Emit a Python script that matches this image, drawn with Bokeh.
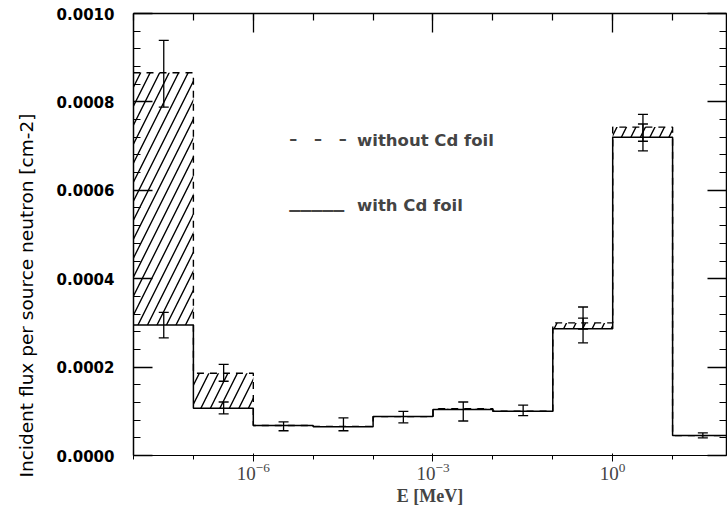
import math
from bokeh.plotting import figure
from bokeh.models import (LogAxis, LinearAxis, FixedTicker, SingleIntervalTicker,
                          ColumnDataSource, Whisker, TeeHead, Label, Range1d, Title,
                          PrintfTickFormatter, CustomJSTickFormatter)
from bokeh.embed import file_html
from bokeh.resources import INLINE

# ---- data ----
edges = [1e-8, 1e-7, 1e-6, 1e-5, 1e-4, 1e-3, 1e-2, 1e-1, 1e0, 1e1, 1e2]
with_cd = [0.000295, 0.000107, 0.000068, 0.000065, 0.000088, 0.000104,
           0.000100, 0.000287, 0.000720, 0.000045]
without_cd = [0.000866, 0.000186, 0.000068, 0.000066, 0.000088, 0.000106,
              0.000100, 0.000300, 0.000743, 0.000045]

err_e = [3.2e-8, 3.2e-8, 3.2e-7, 3.2e-7, 3.2e-6, 3.2e-5, 3.2e-4, 3.2e-3,
         3.2e-2, 0.32, 0.32, 3.2, 3.2, 32.0]
err_lo = [0.000788, 0.000266, 0.000168, 0.000094, 0.000056, 0.000056, 0.000074,
          0.000078, 0.000090, 0.000286, 0.000255, 0.000711, 0.000689, 0.000040]
err_hi = [0.000939, 0.000324, 0.000206, 0.000121, 0.000076, 0.000085, 0.000100,
          0.000121, 0.000114, 0.000336, 0.000311, 0.000772, 0.000750, 0.000051]

x_major = [1e-6, 1e-3, 1.0]
x_minor = [1e-8, 1e-7, 1e-6, 1e-5, 1e-4, 1e-3, 1e-2, 1e-1, 1e0, 1e1]

NB = "\u00a0"
legend_samples = ["\u2013" + NB * 3 + "\u2013" + NB * 3 + "\u2013", "_____"]
legend_labels = ["without Cd foil", "with Cd foil"]
legend_y = [0.000712, 0.000566]

# ---- figure ----
p = figure(width=727, height=508, x_axis_type="log",
           x_range=Range1d(1e-8, 10 ** 1.9), y_range=Range1d(0, 0.001),
           output_backend="svg", toolbar_location=None,
           min_border_left=132, min_border_right=1, min_border_top=13,
           min_border_bottom=50)
p.grid.visible = False
p.outline_line_color = None
p.background_fill_color = "white"

# hatched difference
p.quad(left=edges[:-1], right=edges[1:], bottom=with_cd, top=without_cd,
       fill_alpha=0, line_alpha=0, hatch_pattern="/", hatch_color="black",
       hatch_weight=1.4, hatch_scale=19)

# step lines
p.step(x=edges, y=without_cd + [without_cd[-1]], mode="after",
       line_color="black", line_width=1.4, line_dash="7 6")
p.step(x=edges, y=with_cd + [with_cd[-1]], mode="after",
       line_color="black", line_width=1.5)

# error bars
src = ColumnDataSource(dict(x=err_e, lo=err_lo, hi=err_hi))
p.add_layout(Whisker(source=src, base="x", lower="lo", upper="hi",
                     dimension="height", line_color="black", line_width=1.3,
                     upper_head=TeeHead(size=10, line_color="black", line_width=1.3),
                     lower_head=TeeHead(size=10, line_color="black", line_width=1.3)))

# legend (typed, as in the original)
p.add_layout(Label(x=3.98e-6, y=legend_y[0], text=legend_samples[0],
                   text_font="DejaVu Sans", text_font_style="bold",
                   text_font_size="16px", text_baseline="middle", y_offset=2))
p.add_layout(Label(x=3.98e-6, y=legend_y[1], text=legend_samples[1],
                   text_font="DejaVu Sans", text_font_style="bold",
                   text_font_size="22px", text_baseline="middle", y_offset=6))
for lab, yy in zip(legend_labels, legend_y):
    p.add_layout(Label(x=5.4e-5, y=yy, text=lab,
                       text_font="DejaVu Sans", text_font_style="bold",
                       text_font_size="16.5px", text_baseline="middle"))

# y-axis title
p.add_layout(Title(text="Incident flux per source neutron [cm-2]",
                   align="left", offset=-22, vertical_align="top",
                   text_font="DejaVu Sans",
                   text_font_size="18.5px", text_font_style="normal",
                   text_color="black", standoff=30), "left")

# ---- axes ----
xt = FixedTicker(ticks=x_major, minor_ticks=x_minor)
yt = SingleIntervalTicker(interval=0.0002, num_minor_ticks=5)

for ax in p.xaxis:
    ax.ticker = xt
    ax.axis_label = "E [MeV]"
    ax.axis_label_text_font = "Liberation Serif"
    ax.axis_label_text_font_style = "bold"
    ax.axis_label_text_font_size = "18px"
    ax.axis_label_standoff = 3
    ax.major_label_text_font = "Liberation Serif"
    ax.major_label_text_font_style = "normal"
    ax.major_label_text_font_size = "19px"
    ax.major_label_standoff = 1

for ax in p.yaxis:
    ax.ticker = yt
    ax.formatter = PrintfTickFormatter(format="%.4f")
    ax.major_label_text_font = "DejaVu Sans"
    ax.major_label_text_font_style = "bold"
    ax.major_label_text_font_size = "15px"
    ax.major_label_standoff = 19

top = LogAxis(ticker=xt, formatter=CustomJSTickFormatter(code="return '';"))
right = LinearAxis(ticker=yt, formatter=CustomJSTickFormatter(code="return '';"))
p.add_layout(top, "above")
p.add_layout(right, "right")

for ax in [p.xaxis[0], p.yaxis[0], top, right]:
    ax.axis_line_color = "black"
    ax.axis_line_width = 1.5
    ax.major_tick_in = 19
    ax.major_tick_out = 0
    ax.minor_tick_in = 7
    ax.minor_tick_out = 0
    ax.major_tick_line_color = "black"
    ax.minor_tick_line_color = "black"
    ax.major_tick_line_width = 1.3
    ax.minor_tick_line_width = 1.2
    ax.major_label_text_color = "black"
    ax.axis_label_text_color = "black"

open("out.html", "w").write(file_html(p, INLINE))
